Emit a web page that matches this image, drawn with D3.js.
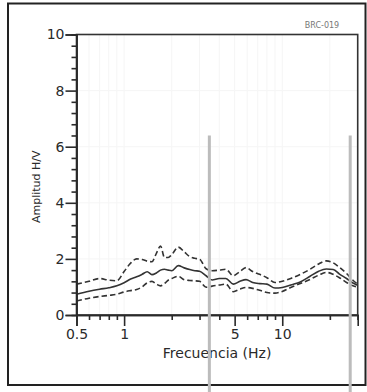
<!DOCTYPE html>
<html>
<head>
<meta charset="utf-8">
<script src="https://cdn.jsdelivr.net/npm/d3@7"></script>
<style>
  html, body { margin: 0; padding: 0; background: #fff; }
  svg { display: block; }
  text { font-family: "DejaVu Sans", Verdana, sans-serif; fill: #2a2a2a; }
</style>
</head>
<body>
<svg id="chart" width="367" height="392"></svg>
<script>
// H/V spectral ratio, station BRC-019
const stationId = "BRC-019";
const freq = [0.5, 0.6, 0.7, 0.8, 0.9, 1.0, 1.1, 1.2, 1.3, 1.4, 1.5, 1.6, 1.7, 1.8, 1.9, 2.0,
  2.2, 2.4, 2.6, 2.8, 3.0, 3.3, 3.6, 4.0, 4.4, 4.9, 5.4, 5.9, 6.5, 7.2, 8.0, 9.0, 10,
  11.5, 13, 15, 17, 19, 21, 23, 25.5, 28, 30];
const hvMean = [0.74, 0.85, 0.92, 0.97, 1.04, 1.15, 1.28, 1.36, 1.45, 1.54, 1.44, 1.50, 1.60, 1.63, 1.60, 1.58,
  1.76, 1.68, 1.62, 1.58, 1.56, 1.40, 1.25, 1.30, 1.30, 1.10, 1.20, 1.26, 1.16, 1.12, 1.10, 0.96, 0.98,
  1.08, 1.18, 1.38, 1.56, 1.64, 1.62, 1.46, 1.30, 1.14, 1.06];
const hvUpper = [1.10, 1.20, 1.30, 1.24, 1.22, 1.55, 1.85, 2.00, 1.98, 1.92, 1.90, 2.20, 2.46, 2.05, 2.05, 2.15,
  2.42, 2.25, 2.08, 2.02, 1.99, 1.65, 1.58, 1.60, 1.63, 1.40, 1.55, 1.69, 1.55, 1.45, 1.33, 1.16, 1.20,
  1.32, 1.45, 1.63, 1.82, 1.93, 1.86, 1.70, 1.48, 1.24, 1.10];
const hvLower = [0.50, 0.60, 0.66, 0.70, 0.74, 0.82, 0.87, 0.91, 1.00, 1.15, 1.20, 1.10, 1.04, 1.12, 1.24, 1.30,
  1.38, 1.26, 1.23, 1.22, 1.20, 0.99, 1.03, 1.07, 1.10, 0.83, 0.92, 0.98, 0.95, 0.88, 0.80, 0.78, 0.84,
  1.00, 1.12, 1.27, 1.42, 1.52, 1.45, 1.33, 1.16, 1.04, 1.00];

const yMajorTicks = [0, 2, 4, 6, 8, 10];
const xMajorTicks = [0.5, 1, 5, 10];
const xTickLabels = ["0.5", "1", "5", "10"];
const xMinorTicks = [0.6, 0.7, 0.8, 0.9, 2, 3, 4, 6, 7, 8, 9, 20, 30];
// frequency markers drawn as grey vertical guides
const markerFreqs = [3.46, 26.9];
const markerTop = 6.4;

const svg = d3.select("#chart");
const x = d3.scaleLog().domain([0.5, 30]).range([76.5, 357.7]);
const y = d3.scaleLinear().domain([0, 10]).range([315, 34.5]);
const yMinorTicks = d3.range(0, 51).map(i => i * 0.4).filter(v => v <= 10 && yMajorTicks.indexOf(v) < 0);

// outer frame
svg.append("rect").attr("x", 8).attr("y", 3.5).attr("width", 357.5).attr("height", 381.5)
  .attr("fill", "none").attr("stroke", "#222").attr("stroke-width", 2);

// faint grid
const grid = svg.append("g").attr("stroke", "#f5f5f5").attr("stroke-width", 1);
grid.selectAll("line.gx").data(xMinorTicks.concat(xMajorTicks)).join("line")
  .attr("x1", d => x(d)).attr("x2", d => x(d)).attr("y1", y(10)).attr("y2", y(0));
grid.selectAll("line.gy").data(yMajorTicks).join("line")
  .attr("x1", x(0.5)).attr("x2", x(30)).attr("y1", d => y(d)).attr("y2", d => y(d));

// plot box
svg.append("rect").attr("x", x(0.5)).attr("y", y(10))
  .attr("width", x(30) - x(0.5)).attr("height", y(0) - y(10))
  .attr("fill", "none").attr("stroke", "#333").attr("stroke-width", 1.6);

// curves
const pts = vals => freq.map((f, i) => [f, vals[i]]);
const line = d3.line().x(d => x(d[0])).y(d => y(d[1])).curve(d3.curveMonotoneX);
const curves = svg.append("g").attr("fill", "none").attr("stroke", "#333").attr("stroke-width", 1.6);
curves.append("path").attr("d", line(pts(hvUpper))).attr("stroke-dasharray", "5.5,3");
curves.append("path").attr("d", line(pts(hvLower))).attr("stroke-dasharray", "5.5,3");
curves.append("path").attr("d", line(pts(hvMean)));

// y axis
svg.append("g").attr("transform", `translate(${x(0.5)},0)`)
  .call(d3.axisLeft(y).tickValues(yMajorTicks).tickSize(11).tickPadding(1).tickFormat(d3.format("d")));
svg.append("g").attr("transform", `translate(${x(0.5)},0)`)
  .call(d3.axisLeft(y).tickValues(yMinorTicks).tickSize(5).tickFormat(""));

// x axis
svg.append("g").attr("transform", `translate(0,${y(0)})`)
  .call(d3.axisBottom(x).tickValues(xMajorTicks).tickSize(11).tickPadding(3)
    .tickFormat((d, i) => xTickLabels[i]));
svg.append("g").attr("transform", `translate(0,${y(0)})`)
  .call(d3.axisBottom(x).tickValues(xMinorTicks).tickSize(5).tickFormat(""));

svg.selectAll(".domain").attr("stroke", "#2a2a2a").attr("stroke-width", 1.6);
svg.selectAll(".tick line").attr("stroke", "#2a2a2a").attr("stroke-width", 1.6);
svg.selectAll(".tick text").style("font-family", "'DejaVu Sans', Verdana, sans-serif")
  .style("font-size", "14px").attr("fill", "#2a2a2a");

// axis titles
svg.append("text").attr("x", (x(0.5) + x(30)) / 2).attr("y", 358)
  .attr("text-anchor", "middle").style("font-size", "14px").text("Frecuencia (Hz)");
svg.append("text").attr("transform", `translate(40,${(y(0) + y(10)) / 2 + 12}) rotate(-90)`)
  .attr("text-anchor", "middle").style("font-size", "11px").text("Amplitud H/V");

// station label
svg.append("text").attr("x", 322).attr("y", 28).attr("text-anchor", "middle")
  .style("font-size", "8px").style("fill", "#777").text(stationId);

// grey vertical guides
svg.append("g").selectAll("line").data(markerFreqs).join("line")
  .attr("x1", d => x(d)).attr("x2", d => x(d))
  .attr("y1", y(markerTop)).attr("y2", 392)
  .attr("stroke", "#bcbcbc").attr("stroke-width", 3);
</script>
</body>
</html>
